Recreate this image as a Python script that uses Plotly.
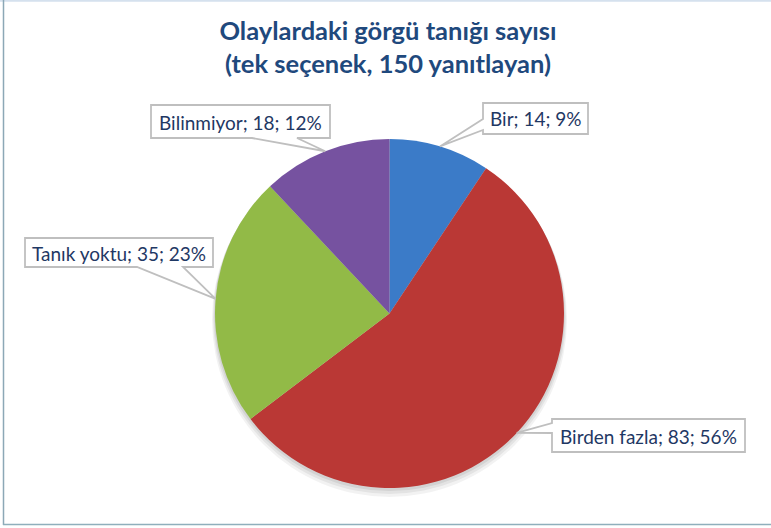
import math
import plotly.graph_objects as go

# ---- data ----
categories = ["Bir", "Birden fazla", "Tanık yoktu", "Bilinmiyor"]
counts = [14, 83, 35, 18]
percents = [9, 56, 23, 12]
title_lines = ["Olaylardaki görgü tanığı sayısı", "(tek seçenek, 150 yanıtlayan)"]

# ---- style / layout ----
colors = ["#3B7BC8", "#BA3835", "#92BA47", "#7652A0"]
W, H = 771, 528
CX, CY, R = 389.5, 313.5, 174.5
FONT = "Lato"
TEXT_COLOR = "#1F3864"
BOX_LINE = "#BFBFBF"

# callout boxes (pixel layout): x0, y0, x1, y1, side, base start, base end
callouts = {
    "Bir": (483, 103, 588, 134, "left", 119, 130),
    "Birden fazla": (552, 419, 745, 452, "left", 423, 433),
    "Tanık yoktu": (25, 238, 213, 267, "bottom", 137, 183),
    "Bilinmiyor": (151, 105, 330, 138, "bottom", 252, 297),
}


def px(x):
    return x / W


def py(y):
    return 1 - y / H


fig = go.Figure()
fig.add_trace(go.Pie(
    labels=categories,
    values=counts,
    sort=False,
    direction="clockwise",
    rotation=0,
    marker=dict(colors=colors, line=dict(width=0)),
    textinfo="none",
    hoverinfo="label+value+percent",
    showlegend=False,
    domain=dict(x=[px(CX - R), px(CX + R)], y=[py(CY + R), py(CY - R)]),
))

shapes = []
annotations = []

# soft shadow under pie
for dy, extra, op in [(6, 3, 0.05), (4, 2, 0.06), (2, 1, 0.07)]:
    shapes.append(dict(
        type="circle", xref="paper", yref="paper", layer="below",
        x0=px(CX - R - extra), x1=px(CX + R + extra),
        y0=py(CY + R + extra + dy), y1=py(CY - R - extra + dy),
        fillcolor="rgba(0,0,0,1)", opacity=op, line=dict(width=0),
    ))

total = sum(counts)
cum = 0
for cat, val, pct in zip(categories, counts, percents):
    mid = (cum + val / 2) / total * 2 * math.pi
    cum += val
    tx = CX + R * math.sin(mid)
    ty = CY - R * math.cos(mid)
    x0, y0, x1, y1, side, b1, b2 = callouts[cat]
    if side == "bottom":
        pts = [(x0, y0), (x1, y0), (x1, y1), (b2, y1), (tx, ty), (b1, y1), (x0, y1)]
    else:
        pts = [(x0, y0), (x1, y0), (x1, y1), (x0, y1), (x0, b2), (tx, ty), (x0, b1)]
    path = "M " + " L ".join(f"{px(a):.5f},{py(b):.5f}" for a, b in pts) + " Z"
    shapes.append(dict(
        type="path", path=path, xref="paper", yref="paper", layer="above",
        fillcolor="white", line=dict(color=BOX_LINE, width=1.8),
    ))
    annotations.append(dict(
        x=px((x0 + x1) / 2), y=py((y0 + y1) / 2 + 0.5), xref="paper", yref="paper",
        xanchor="center", yanchor="middle", showarrow=False,
        text=f"{cat}; {val}; {pct}%",
        font=dict(family=FONT, size=19, color=TEXT_COLOR),
    ))

# chart border
shapes.append(dict(type="line", xref="paper", yref="paper", x0=px(0), x1=px(W), y0=py(0.8), y1=py(0.8),
                   line=dict(color="#D5E1EE", width=2)))
shapes.append(dict(type="line", xref="paper", yref="paper", x0=px(3.5), x1=px(3.5), y0=py(0), y1=py(525),
                   line=dict(color="#8CA8B6", width=1.5)))
shapes.append(dict(type="line", xref="paper", yref="paper", x0=px(3), x1=px(W), y0=py(524.5), y1=py(524.5),
                   line=dict(color="#8FAFBC", width=1.5)))

fig.update_layout(
    width=W, height=H,
    margin=dict(l=0, r=0, t=0, b=0),
    paper_bgcolor="white",
    plot_bgcolor="white",
    title=dict(
        text="<b>" + "<br>".join(title_lines) + "</b>",
        x=px(388), y=py(40), xanchor="center", yanchor="middle",
        xref="paper", yref="paper",
        font=dict(family=FONT, size=25.5, color="#1F497D"),
    ),
    shapes=shapes,
    annotations=annotations,
)

fig.write_html(
    "out.html",
    config={"displayModeBar": False},
    post_script="document.body.style.margin='0';document.body.style.overflow='hidden';",
)
